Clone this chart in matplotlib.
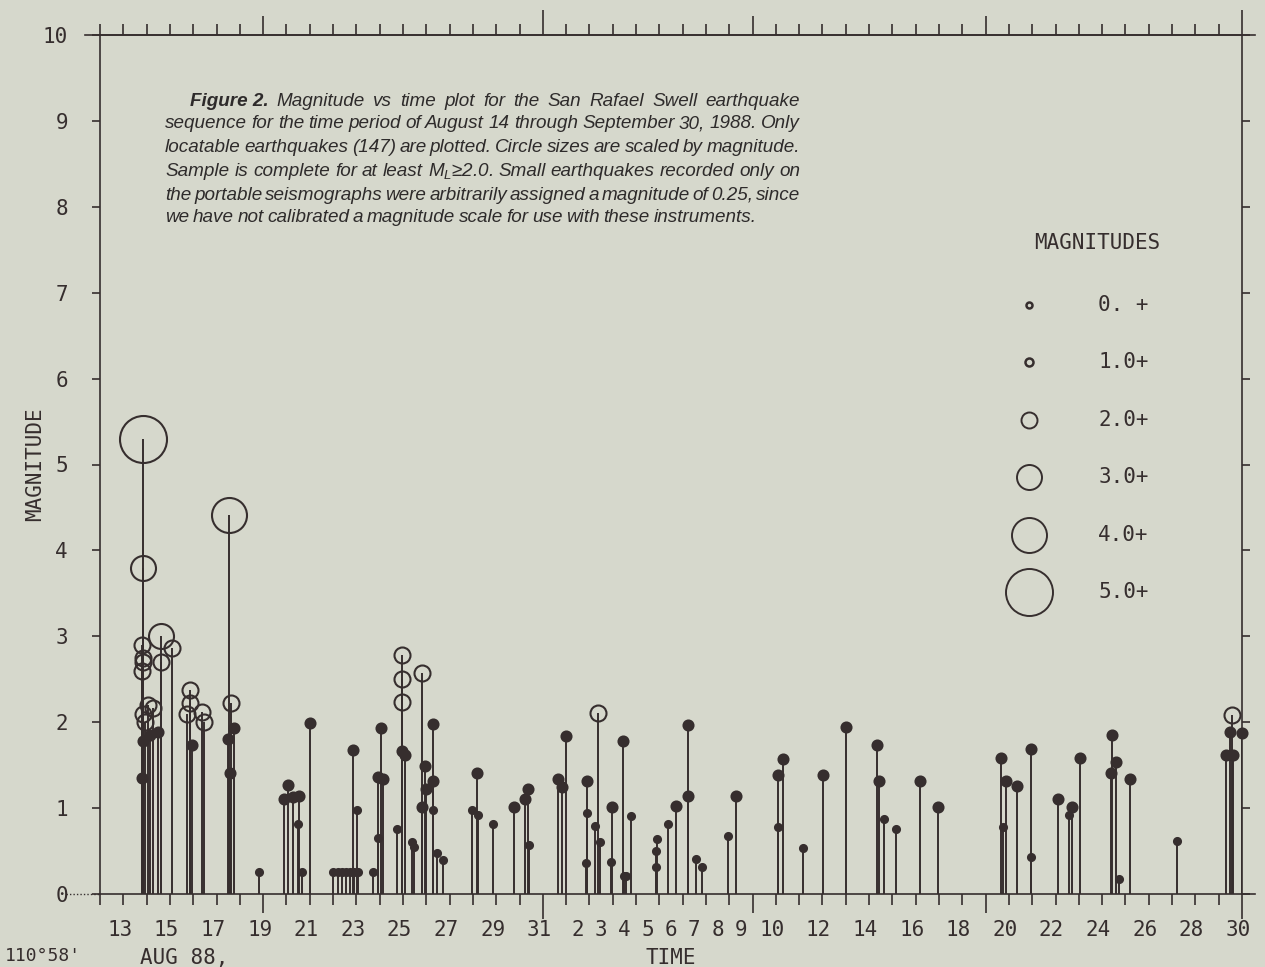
import numpy as np
import matplotlib.pyplot as plt
import matplotlib.transforms as mtransforms

plt.rcParams['font.family'] = ['DejaVu Sans Mono']
plt.rcParams['mathtext.fontset'] = 'custom'
plt.rcParams['mathtext.it'] = 'Liberation Sans:italic'
plt.rcParams['mathtext.rm'] = 'Liberation Sans:italic'

# event time in days after 13 Aug 1988 00:00, and local magnitude
aug_t = [1.83, 1.84, 1.82, 1.83, 1.84, 1.82, 1.86, 1.85, 1.80, 1.93, 2.07, 2.14, 2.29, 2.50,
         2.62, 2.62, 3.09, 3.73, 3.86, 3.88, 3.93, 4.38, 4.46, 5.49, 5.55, 5.62, 5.58, 5.75,
         6.83, 7.90, 8.05, 8.28, 8.51, 8.55, 8.65, 9.01, 10.01, 10.20, 10.38, 10.55, 10.72,
         10.90, 11.08, 10.84, 11.04, 11.72, 11.94, 11.94, 12.04, 12.15, 12.75, 12.94, 12.94,
         12.94, 12.94, 13.08, 13.37, 13.47, 13.80, 13.80, 13.94, 13.98, 14.27, 14.27, 14.30,
         14.44, 14.73, 15.95, 16.19, 16.23, 16.87, 17.77, 18.23, 18.37, 18.42]
aug_mag = [5.30, 3.80, 2.90, 2.75, 2.70, 2.60, 2.10, 1.78, 1.35, 2.00, 2.20, 1.85, 2.17, 1.89,
           3.00, 2.70, 2.86, 2.10, 2.22, 2.38, 1.73, 2.12, 2.00, 1.81, 4.41, 2.22, 1.41, 1.93,
           0.26, 1.11, 1.27, 1.13, 0.81, 1.14, 0.26, 1.99, 0.26, 0.26, 0.26, 0.26, 0.26,
           0.26, 0.26, 1.68, 0.98, 0.26, 1.36, 0.65, 1.93, 1.34, 0.76, 2.78, 2.50,
           2.24, 1.67, 1.62, 0.61, 0.55, 2.57, 1.01, 1.49, 1.22, 1.32, 0.98, 1.98,
           0.48, 0.40, 0.98, 1.41, 0.92, 0.81, 1.01, 1.11, 1.22, 0.57]
sep_t = [19.66, 19.81, 19.99, 20.85, 20.88, 20.90, 21.24, 21.35, 21.45, 21.92, 21.95, 22.42,
         22.48, 22.57, 22.77, 23.84, 23.85, 23.88, 24.35, 24.70, 25.21, 25.21, 25.57, 25.84,
         26.95, 27.27, 29.10, 29.10, 29.31, 30.17, 31.03, 32.03, 33.35, 33.43, 33.63, 34.15,
         35.18, 35.94, 38.64, 38.73, 38.87, 39.33, 39.94, 39.94, 41.09, 41.57, 41.69, 42.04,
         43.36, 43.44, 43.58, 43.73, 44.19, 46.22, 48.33, 48.48, 48.55, 48.62, 48.98]
sep_mag = [1.34, 1.24, 1.84, 0.36, 0.94, 1.32, 0.79, 2.11, 0.61, 0.37, 1.01, 1.78,
           0.21, 0.21, 0.91, 0.50, 0.31, 0.64, 0.81, 1.03, 1.97, 1.14, 0.41, 0.31,
           0.68, 1.14, 1.38, 0.78, 1.57, 0.54, 1.38, 1.94, 1.74, 1.32, 0.87, 0.76,
           1.32, 1.01, 1.58, 0.78, 1.32, 1.26, 1.69, 0.43, 1.11, 0.92, 1.01, 1.58,
           1.41, 1.85, 1.54, 0.18, 1.34, 0.62, 1.62, 1.89, 2.08, 1.62, 1.87]

# x tick labels (day of month)
aug_labels = [13, 15, 17, 19, 21, 23, 25, 27, 29, 31]
sep_labels = [2, 3, 4, 5, 6, 7, 8, 9, 10, 12, 14, 16, 18, 20, 22, 24, 26, 28, 30]

legend_labels = ['0. +', '1.0+', '2.0+', '3.0+', '4.0+', '5.0+']

caption = [
    ['Figure 2.', 'Magnitude vs time plot for the San Rafael Swell earthquake'],
    'sequence for the time period of August 14 through September 30, 1988. Only',
    'locatable earthquakes (147) are plotted. Circle sizes are scaled by magnitude.',
    'Sample is complete for at least $M_L$\u22652.0. Small earthquakes recorded only on',
    'the portable seismographs were arbitrarily assigned a magnitude of 0.25, since',
    'we have not calibrated a magnitude scale for use with these instruments.',
]

bg = '#d6d8cc'
ink = '#362e2e'

t = np.array(aug_t + sep_t)
m = np.array(aug_mag + sep_mag)

fig = plt.figure(figsize=(12.65, 9.67), dpi=100, facecolor=bg)
ax = fig.add_axes([100 / 1265, 73 / 967, 1142 / 1265, 859 / 967])
ax.set_facecolor(bg)
ax.set_xlim(0, 49)
ax.set_ylim(0, 10)

# stems + circles sized by magnitude class
ax.vlines(t, 0, m, colors=ink, lw=1.4, zorder=2)
diam_px = [7, 10, 16, 25, 35, 47]
mclass = np.floor(m).astype(int)
for c in range(6):
    sel = mclass == c
    if not sel.any():
        continue
    ax.plot(t[sel], m[sel], 'o', ms=diam_px[c] * 0.72,
            mfc=ink if c < 2 else 'none', mec=ink, mew=1.5,
            clip_on=False, zorder=3)

# legend
leg_d = [6, 8, 16, 25, 35, 47]
ax.text(0.873, 0.758, 'MAGNITUDES', transform=ax.transAxes, ha='center', va='center',
        fontsize=15, color=ink)
for i, lab in enumerate(legend_labels):
    yy = 0.6857 - i * 0.0668
    ax.plot(0.8135, yy, 'o', ms=leg_d[i] * 0.72, mfc='none', mec=ink,
            mew=1.8 if i < 2 else 1.4, transform=ax.transAxes)
    ax.text(0.874, yy, lab, transform=ax.transAxes, ha='left', va='center',
            fontsize=15, color=ink)

# axes frame
for s in ax.spines.values():
    s.set_color(ink)
    s.set_linewidth(1.2)
ax.plot([-0.013, 1.011], [1, 1], color=ink, lw=1.2, transform=ax.transAxes, clip_on=False)
ax.plot([1, 1.011], [0, 0], color=ink, lw=1.2, transform=ax.transAxes, clip_on=False)
ax.plot([-0.03, 0], [0, 0], color=ink, lw=1.0, ls=(0, (1, 1.5)),
        transform=ax.transAxes, clip_on=False)

# x ticks: every day, longer at 20 Aug, 1 Sep, 10 Sep, 20 Sep, 1 Oct
ax.set_xticks([7, 19, 28, 38, 49])
ax.set_xticks(np.arange(0, 50), minor=True)
ax.set_xticklabels([])
ax.tick_params(axis='x', which='major', length=14, width=1.2, direction='out',
               top=True, bottom=True, color=ink)
ax.tick_params(axis='x', which='minor', length=8, width=1.2, direction='out',
               top=True, bottom=True, color=ink)
for k in (1, 4):
    tk = ax.xaxis.get_major_ticks()[k]
    tk.tick1line.set_markersize(18)
    tk.tick2line.set_markersize(18)

trans = mtransforms.blended_transform_factory(ax.transData, ax.transAxes)
for d in aug_labels:
    ax.text(d - 12 - 0.15, -0.042, str(d), transform=trans, ha='center', va='center',
            fontsize=15, color=ink)
for d in sep_labels:
    off = 0.5 if d < 10 else 0.17
    ax.text(d + 19 - off, -0.042, str(d), transform=trans, ha='center', va='center',
            fontsize=15, color=ink)

ax.set_yticks(range(11))
ax.tick_params(axis='y', length=6, width=1.2, direction='out', left=True, right=True,
               labelsize=15, pad=17, colors=ink)

ax.set_ylabel('MAGNITUDE', fontsize=15, color=ink)
ax.yaxis.set_label_coords(-0.048, 0.5)
ax.text(0.5, -0.074, 'TIME', transform=ax.transAxes, ha='center', va='center',
        fontsize=15, color=ink)
ax.text(0.035, -0.074, 'AUG 88,', transform=ax.transAxes, ha='left', va='center',
        fontsize=15, color=ink)
fig.text(5 / 1265, 2 / 967, "110\u00b058'", ha='left', va='bottom', fontsize=13, color=ink)

# caption, justified line by line
fig.canvas.draw()
rend = fig.canvas.get_renderer()
ys = [102, 124, 147, 171, 195, 218]
for i, line in enumerate(caption):
    if isinstance(line, list):
        words = [(line[0], 'bold')] + [(w, 'normal') for w in line[1].split(' ')]
        x0 = 190
    else:
        words = [(w, 'normal') for w in line.split(' ')]
        x0 = 165
    texts = [fig.text(0, 1 - ys[i] / 967, w, fontsize=13.6, style='italic', weight=wt,
                      family='Liberation Sans', color='#2e2b2b', va='center')
             for w, wt in words]
    widths = [tx.get_window_extent(rend).width for tx in texts]
    if i == len(caption) - 1:
        gap = 3.6
    else:
        gap = (800 - x0 - sum(widths)) / (len(words) - 1)
    x = x0
    for j, (tx, w) in enumerate(zip(texts, widths)):
        tx.set_x(x / 1265)
        x += w + gap

fig.savefig('out.png', dpi=100, facecolor=bg)
